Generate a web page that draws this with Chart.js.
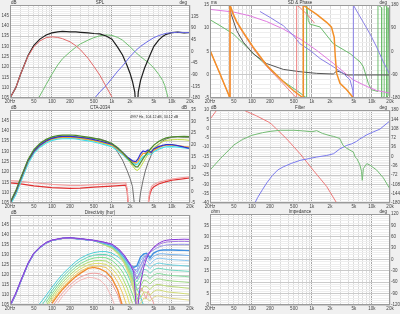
<!DOCTYPE html>
<html>
<head>
<meta charset="utf-8">
<script src="https://cdn.jsdelivr.net/npm/chart.js@4.4.1/dist/chart.umd.min.js"></script>
<style>
  html, body { margin: 0; padding: 0; background: #f0f0f0; width: 400px; height: 314px; overflow: hidden; }
  canvas { position: absolute; }
</style>
</head>
<body>
<canvas id="spl" width="200" height="104" style="left:0;top:0;width:200px;height:104px"></canvas>
<canvas id="phase" width="200" height="104" style="left:200px;top:0;width:200px;height:104px"></canvas>
<canvas id="cta" width="200" height="105" style="left:0;top:104px;width:200px;height:105px"></canvas>
<canvas id="filter" width="200" height="105" style="left:200px;top:104px;width:200px;height:105px"></canvas>
<canvas id="dir" width="200" height="103" style="left:0;top:209px;width:200px;height:103px"></canvas>
<canvas id="imp" width="200" height="103" style="left:200px;top:209px;width:200px;height:103px"></canvas>
<script>
// ---- x axis labels ----
const xLabelValues = [20, 50, 100, 200, 500, 1000, 2000, 5000, 10000, 20000];
const xLabelText = ["20Hz", "50", "100", "200", "500", "1k", "2k", "5k", "10k", "20k"];

// ---- SPL ----
const splFreq = [20, 25, 30, 40, 50, 63, 80, 100, 125, 150, 200, 250, 300, 400, 500, 630, 800, 1000, 1250, 1500, 1800, 2000, 2200, 2400, 2580, 2750, 3000, 3500, 4000, 4500, 5000, 6000, 7000, 8000, 10000, 12500, 16000, 20000];
const splTotal = [105, 110, 116.5, 125.5, 130.5, 133.5, 135.5, 136.5, 137, 137.2, 137, 137, 136.8, 136.5, 136.2, 136, 135, 133.5, 129.5, 125.8, 120.5, 117, 113, 108, 95, 108, 113.5, 119.5, 123.5, 127, 130, 133, 134.8, 135.8, 136.6, 136.9, 136.5, 136.7];
const wooferFreq = [20, 25, 30, 40, 50, 63, 80, 100, 125, 150, 200, 250, 300, 400, 500, 630, 800, 1000, 1100];
const wooferSpl = [105, 110, 116.5, 125.3, 129.8, 132.6, 134.2, 134.6, 134.3, 133.7, 132.2, 130.3, 128.3, 124.2, 120.3, 116, 110.5, 105.5, 102];
const midFreq = [60, 70, 80, 100, 125, 150, 200, 250, 300, 400, 500, 630, 800, 1000, 1250, 1500, 2000, 2500, 3000, 3500, 4000, 5000, 6000, 7000, 7600, 8200, 8800];
const midSpl = [105, 108.5, 111.5, 116.5, 121, 124, 127.3, 129.6, 131.2, 133, 134.2, 135.1, 135.5, 135.3, 134.3, 133, 129.8, 127, 125, 123.5, 122.3, 119.5, 116.5, 113.5, 111, 107.5, 104];
const tweeterFreq = [500, 630, 800, 1000, 1250, 1500, 2000, 2500, 3000, 4000, 5000, 6000, 7000, 8000, 10000, 12500, 16000, 20000];
const tweeterSpl = [104.5, 108, 111, 114.5, 118, 120.5, 125, 128, 130, 132.5, 134.2, 135.2, 135.8, 136.3, 136.6, 136.8, 136.7, 136.6];

// ---- SD & Phase ----
const sysPhaseFreq = [20, 29.4, 43.1, 43.1, 49, 55.7, 71.9, 105, 176, 333, 489, 718, 718, 750, 1198, 1759, 2120, 2350, 2450, 2583, 2935, 3791, 4800, 4897];
const sysPhaseDeg = [4.5, -87, -180, 180, 144, 116, 74, 17, -53, -116, -151, -180, 180, 176, 144, 113, 94, 55, -21, -85, -123, -148, -177, -180];
const woofPhaseFreq = [20, 29.4, 43.1, 43.1, 49, 55.7, 71.9, 105, 176, 333, 480, 556, 556, 632, 816, 1054, 1100];
const woofPhaseDeg = [4.5, -87, -180, 180, 140, 112, 70, 12, -58, -125, -165, -180, 180, 170, 145, 116, 110];
const twPhaseFreq = [136, 200, 333, 489, 632, 928, 1362, 2273, 3336, 4309, 4800, 4897, 4897, 5565, 7188, 9283, 11990, 15486, 20000];
const twPhaseDeg = [155, 132, 100, 62, 30, 4.5, -27, -59, -85, -110, -150, -180, 180, 157, 113, 68, 17, -40, -91];
const midPhaseFreq = [20, 29.4, 49, 92.8, 176, 333, 632, 816, 816, 870, 928, 1362, 2273, 4309, 6325, 7188, 8700, 9800, 12600, 12600, 14500, 14500, 16000, 16000, 17600, 17600, 18600, 18600, 20000];
const midPhaseDeg = [123, 100, 68, 5, -55, -115, -160, -180, 180, 120, 106, 95, 30, -8, -40, -59, -123, -148, -155, 180, 170, -180, -175, 180, 175, -180, -170, 170, -150];
const exPhaseFreq = [20, 49, 92.8, 176, 333, 632, 1198, 2273, 3336, 4897, 8169, 11990, 20000];
const exPhaseDeg = [163, 153, 138, 116, 87, 49, 4.5, -46, -78, -110, -135, -151, -161];
const gdFreq = [40, 43.1, 45.1, 55.7, 71.9, 105, 176, 333, 632, 1198, 2273, 2583, 2935, 3791, 20000];
const gdMs = [17, 14.1, 13, 9.5, 7, 4.5, 2.4, 1.15, 0.65, 0.3, 0.16, 0.8, 0.6, -0.05, -0.05];

// ---- CTA-2034 ----
const ctaFreq = [20, 25, 30, 40, 50, 63, 80, 100, 125, 150, 200, 250, 300, 400, 500, 630, 800, 1000, 1250, 1500, 1800, 2000, 2200, 2500, 2700, 3000, 3300, 3600, 4000, 4500, 5000, 6000, 7000, 8000, 10000, 12500, 16000, 20000];
const ctaOnAxis = [105, 110, 116.5, 125.5, 130.5, 133.5, 135.5, 136.5, 137, 137.2, 137, 137, 136.8, 136.5, 136.2, 136, 135, 133.5, 129.5, 125.8, 120.5, 117, 113, 98, 99, 110, 116, 120.5, 124.5, 128, 130.5, 133.3, 135, 136, 136.8, 137, 136.8, 136.8];
const ctaListening = [105, 110.5, 116.5, 125.5, 130, 133, 135, 136.3, 137, 137.2, 137.2, 137, 136.7, 136.2, 135.7, 135, 134.2, 133.5, 131.5, 129.5, 127.3, 126.3, 125.4, 125, 126.2, 128.8, 130.2, 129.8, 130.6, 129.5, 131.3, 132.3, 132.9, 133.2, 133.2, 132.8, 132, 131.4];
const ctaEarly = [104.8, 110.2, 116.2, 125.2, 129.8, 132.8, 134.8, 136, 136.6, 136.8, 136.8, 136.6, 136.3, 135.8, 135.3, 134.6, 133.8, 133, 131, 129, 126.8, 125.8, 124.8, 124.3, 125, 127.5, 129, 129, 129.8, 129.2, 130.6, 131.8, 132.6, 133, 133, 132.8, 132.3, 132];
const ctaPower = [104, 109, 115, 124, 129, 132, 134, 135.3, 135.9, 136.1, 136.2, 136, 135.6, 135.1, 134.5, 133.8, 133, 132.2, 130.3, 128.5, 126.3, 125.3, 124.4, 123.6, 124, 126, 127.5, 128, 128.8, 128.6, 129.8, 131, 131.8, 132.2, 132.3, 132, 131.6, 131.3];
const ctaTop = [105.2, 111, 117, 126, 130.8, 133.8, 135.8, 137, 137.6, 137.8, 137.9, 137.7, 137.4, 136.9, 136.4, 135.7, 134.8, 133.8, 131.7, 129.5, 127, 125.5, 124, 122.5, 122.5, 124.5, 126.5, 128, 129.8, 131.5, 133, 134.8, 135.8, 136.5, 137, 137.1, 137.2, 137.1];
const ctaPir = [104.5, 109.5, 115.5, 124.5, 129.5, 132.5, 134.5, 135.8, 136.4, 136.6, 136.7, 136.5, 136.1, 135.6, 135, 134.3, 133.5, 132.7, 130.8, 128.8, 126.2, 124.6, 123, 121, 120.8, 122.5, 124.5, 126.5, 128.5, 130.3, 131.8, 133.5, 134.7, 135.3, 135.6, 135.7, 135.6, 135.3];
const diFreq = [20, 30, 50, 100, 200, 300, 500, 1000, 1500, 1700, 1800, 1900, 3900, 4100, 4300, 4600, 5000, 6000, 8000, 10000, 14000, 20000];
const erDi = [3.7, 3.2, 2.4, 1.6, 1.3, 1.4, 1.8, 2.3, 2.6, 2.7, 0, -10, -10, -4, -1, 1, 2, 3.2, 4.2, 4.8, 5.3, 5.8];
const spDi = [4.6, 4.3, 3.7, 3.0, 2.6, 2.6, 2.9, 3.3, 3.6, 3.7, 1, -10, -10, -3, 0, 2.2, 3, 3.9, 4.8, 5.3, 5.8, 6.3];

// ---- Filter ----
const filtFreq = [20, 30, 50, 70, 100, 150, 200, 300, 500, 700, 1000, 1200, 1500, 2000, 2300, 2900, 3300, 3800, 4300, 4900, 5300, 5600, 6300, 6700, 6900, 7200, 8200, 9300, 12000, 15500, 20000];
const filtMag = [-22.3, -16, -8.8, -5.8, -3.6, -2.2, -1.5, -0.9, -0.9, -1.2, -1.7, -1.1, -2.6, -3.8, -4.2, -5.3, -9, -10.6, -11.6, -12.6, -15.5, -16.1, -19.5, -23, -27.8, -21.5, -18.8, -19.7, -22.3, -26.5, -32.5];
const filtPhaseFreq = [112, 125, 150, 177, 220, 270, 333, 450, 632, 900, 1200, 1760, 2000, 2300, 2900, 3800, 4600, 5500, 6300, 7200, 8200, 10500, 13600, 20000];
const filtPhase = [-180, -158, -128, -102, -73, -52, -40, -27, -15, -8, -2, 4, 7, 11, 29, 43, 49, 58, 68, 76, 84, 95, 106, 138];
const filtRedFreq = [20, 26, 40, 60, 72, 120, 187, 212, 258, 380, 632, 1050, 1760, 2583, 2800];
const filtRed = [144, 180, 220, 200, 180, 157, 134, 125, 106, 68, 11, -53, -116, -180, -200];

// ---- Directivity (hor) ----
const dirFreq = [20, 25, 30, 40, 50, 63, 80, 100, 150, 200, 300, 500, 700, 1000, 1300, 1600, 2000, 2300, 2600, 3000, 3400, 3800, 4300, 4900, 5600, 6300, 7200, 8200, 10000, 13000, 16000, 20000];
const dirLow0 = [105, 111, 117, 126, 131, 134, 136.3, 137.5, 138.5, 138.7, 138.2, 137.4];
const dirLow = [104.5, 110.5, 116.6, 125.6, 130.7, 133.7, 136, 137.3, 138.3, 138.5, 138, 137.2];
const dirHigh = [
  [136.6, 135.5, 133, 130, 125.5, 121.5, 100, 116, 124, 128.5, 131.5, 133.7, 135.2, 136.2, 137, 137.4, 137.7, 137.8, 137.9, 137.8],
  [136.5, 135.3, 132.8, 129.8, 125.6, 122.8, 118, 121.5, 126.5, 129.8, 131.8, 133.4, 134.6, 135.5, 136.1, 136.5, 136.7, 136.8, 136.8, 136.7],
  [136.4, 135.2, 132.6, 129.5, 125.5, 123.3, 121.5, 124.8, 128.5, 130.3, 131.2, 132.5, 133.5, 134.2, 134.7, 135, 135.2, 135.3, 135.3, 135.2],
  [136.3, 135, 132.4, 129.2, 125.2, 123.8, 124.5, 129, 130.5, 130.8, 128.5, 130.8, 131.8, 132.3, 132.5, 132.5, 132.5, 132.4, 132.3, 132.2],
  [136.2, 134.9, 132.2, 129, 124.8, 123, 122.5, 127.3, 129.3, 129.2, 127.2, 129.3, 130.2, 130.6, 130.6, 130.4, 130.2, 130.1, 129.9, 129.7],
  [136.1, 134.7, 132, 128.7, 124.3, 122, 120.5, 125, 127.5, 127.3, 125.3, 127.2, 128.2, 128.4, 128.2, 127.9, 127.7, 127.5, 127.3, 127.1],
  [136, 134.5, 131.8, 128.4, 123.7, 120.8, 118.5, 122.5, 125.3, 125, 123.2, 124.8, 125.8, 125.9, 125.6, 125.3, 125, 124.8, 124.6, 124.4],
  [135.9, 134.3, 131.5, 128, 123, 119.5, 116.5, 120, 122.8, 122.5, 120.8, 122.4, 123.3, 123.3, 123, 122.7, 122.4, 122.2, 122, 121.8],
  [135.8, 134.1, 131.2, 127.6, 122.3, 118.2, 114.5, 117.3, 120.2, 119.8, 118.2, 119.8, 120.7, 120.7, 120.3, 120, 119.7, 119.5, 119.3, 119],
  [135.7, 133.9, 130.9, 127.2, 121.5, 116.8, 112.3, 114.5, 117.5, 117, 115.5, 117.2, 118, 118, 117.6, 117.3, 117, 116.7, 116.5, 116.2],
  [135.6, 133.7, 130.6, 126.8, 120.7, 115.3, 110, 111.5, 114.6, 114.2, 112.7, 114.5, 115.3, 115.2, 114.8, 114.5, 114.2, 113.9, 113.6, 113.3],
  [135.5, 133.5, 130.3, 126.3, 119.8, 113.7, 107.5, 108.5, 111.6, 111.2, 109.8, 111.7, 112.5, 112.4, 112, 111.6, 111.3, 111, 110.7, 110.4],
  [135.4, 133.3, 130, 125.8, 118.8, 112, 105, 105.5, 108.5, 108.2, 107, 108.8, 109.6, 109.5, 109, 108.7, 108.3, 108, 107.7, 107.4]
];
const dirHighColors = ["#8a3ad8", "#a678e0", "#9a9ae8", "#3f8fe0", "#78b4ee", "#8cc8f0", "#6fd2e0", "#70d6c0", "#88dca0", "#a0dc88", "#bcdc78", "#d2dc78", "#e0d888"];
const lowFreq = [60, 70, 80, 100, 125, 150, 200, 250, 300, 400, 500, 630, 800, 1000, 1250, 1500, 1800, 2200, 2600, 3000, 3400];
const dirLowGroup = [
  [105, 107.5, 109.8, 113.8, 117.6, 120.4, 124.1, 126.7, 128.4, 130.3, 131.2, 131.7, 131.7, 130.9, 129.2, 127.2, 123.8, 118.5, 113.5, 109, 104.5],
  [null, 105.5, 108, 112.2, 116.1, 119, 122.8, 125.4, 127.1, 129, 129.9, 130.3, 130.2, 129.2, 127, 124.5, 120.5, 114.5, 109, 103.5, null],
  [null, null, 106.3, 110.7, 114.7, 117.6, 121.4, 124, 125.7, 127.6, 128.5, 128.8, 128.6, 127.3, 124.7, 121.6, 117, 110.5, 104, null, null],
  [null, null, 104.8, 109.3, 113.3, 116.3, 120.1, 122.7, 124.4, 126.3, 127.1, 127.3, 127, 125.3, 122.3, 118.6, 113.4, 105.8, null, null, null],
  [null, null, 103.5, 108, 112, 115, 118.8, 121.4, 123.1, 125, 125.7, 125.8, 125.3, 123.3, 119.8, 115.5, 109.5, 100, null, null, null],
  [null, null, null, 106.8, 110.8, 113.8, 117.6, 120.2, 121.9, 123.8, 124.4, 124.4, 123.7, 121, 116.5, 111, 104, null, null, null, null],
  [null, null, null, 105.8, 109.8, 112.8, 116.6, 119.2, 120.9, 123.3, 123.8, 123.1, 121.5, 118.3, 112.5, 104.5, null, null, null, null, null],
  [null, null, null, 104, 108, 111, 115, 117.5, 119, 120.6, 120.9, 120.6, 119, 115.8, 110, 103, null, null, null, null, null],
  [null, null, null, null, 106, 109.3, 113.5, 116, 117.5, 118.8, 118.6, 117.5, 114.5, 108.5, 101, null, null, null, null, null, null]
];
const dirLowColors = ["#4fcfd8", "#5fd8b8", "#7ee08e", "#aee06e", "#dede6a", "#f0c860", "#f08a30", "#f0a0a0", "#f4b8b8"];
const dirHfFreq = [2500, 2800, 3100, 3400, 3700, 4000, 4400, 4800, 5200];
const dirHfRed = [104, 110, 113.5, 111, 108, 112, 109, 107, 104];

// ---- helpers ----
const FONT = "'Liberation Sans', Arial, sans-serif";
Chart.defaults.font.family = FONT;
Chart.defaults.font.size = 4.5;
Chart.defaults.color = "#333";

function pts(freqs, vals) {
  return freqs.map((f, i) => ({ x: f, y: vals[i] }));
}

function line(freqs, vals, color, width, axis) {
  return {
    data: pts(freqs, vals),
    borderColor: color,
    borderWidth: width || 1,
    yAxisID: axis || "y",
    pointRadius: 0,
    tension: 0,
    spanGaps: false
  };
}

function logGrid() {
  const t = [];
  for (let d = 10; d <= 10000; d *= 10) {
    for (let m = 1; m <= 9; m++) {
      const v = d * m;
      if (v >= 20 && v <= 20000) t.push(v);
    }
  }
  return t;
}

function xScale(h) {
  const grid = logGrid();
  return {
    type: "logarithmic",
    min: 20,
    max: 20000,
    afterBuildTicks: (s) => { s.ticks = grid.map((v) => ({ value: v })); },
    afterFit: (s) => { s.height = h; },
    ticks: {
      autoSkip: false,
      maxRotation: 0,
      padding: 1,
      color: "#444",
      callback: (v) => {
        const i = xLabelValues.indexOf(v);
        return i >= 0 ? xLabelText[i] : "";
      }
    },
    grid: {
      drawTicks: false,
      color: (ctx) => ([100, 1000, 10000].includes(ctx.tick.value) ? "#a8a8a8" : "#dcdcdc")
    },
    border: { display: false }
  };
}

function yScale(ax, pos) {
  const minor = ax.step / 5;
  return {
    type: "linear",
    position: pos,
    min: ax.min,
    max: ax.max,
    afterBuildTicks: (s) => {
      const t = [];
      const n = Math.round((ax.max - ax.min) / minor);
      for (let i = 0; i <= n; i++) t.push({ value: +(ax.min + i * minor).toFixed(4) });
      s.ticks = t;
    },
    afterFit: (s) => { s.width = 10; },
    ticks: {
      display: ax.labels !== false,
      autoSkip: false,
      padding: 1,
      color: "#444",
      callback: (v) => {
        const k = (v - ax.min) / ax.step;
        if (Math.abs(k - Math.round(k)) > 1e-6) return "";
        if (v === ax.max && ax.hideMax) return "";
        return String(v);
      }
    },
    grid: pos === "left"
      ? {
          drawTicks: false,
          color: (ctx) => {
            const k = (ctx.tick.value - ax.min) / ax.step;
            return Math.abs(k - Math.round(k)) < 1e-6 ? "#cacaca" : "#eeeeee";
          }
        }
      : { drawTicks: false, drawOnChartArea: false },
    border: { display: false }
  };
}

// background, frame, title and units
const panelPlugin = {
  id: "panel",
  beforeDraw(chart) {
    const a = chart.chartArea;
    const c = chart.ctx;
    c.save();
    c.fillStyle = "#ffffff";
    c.fillRect(a.left, a.top, a.right - a.left, a.bottom - a.top);
    c.restore();
  },
  afterDraw(chart, args, opts) {
    const a = chart.chartArea;
    const c = chart.ctx;
    c.save();
    c.strokeStyle = "#9a9a9a";
    c.lineWidth = 1;
    c.strokeRect(Math.round(a.left) + 0.5, Math.round(a.top) + 0.5, Math.round(a.right - a.left) - 1, Math.round(a.bottom - a.top) - 1);
    c.font = "4.5px " + FONT;
    c.fillStyle = "#333";
    c.textBaseline = "bottom";
    c.textAlign = "center";
    c.fillText(opts.title, (a.left + a.right) / 2, a.top);
    c.textAlign = "left";
    if (opts.unitL) c.fillText(opts.unitL, a.left + 1, a.top);
    c.textAlign = "right";
    if (opts.unitR) c.fillText(opts.unitR, a.right - 3, a.top);
    if (opts.note) {
      c.font = "3.6px " + FONT;
      c.textAlign = "left";
      c.textBaseline = "middle";
      c.fillText(opts.note, opts.noteX, opts.noteY);
    }
    c.restore();
  }
};

function makePanel(id, cfg) {
  const ctx = document.getElementById(id).getContext("2d");
  return new Chart(ctx, {
    type: "line",
    data: { datasets: cfg.datasets },
    options: {
      responsive: false,
      animation: false,
      events: [],
      layout: { padding: { top: cfg.top, left: 0, right: 0, bottom: 0 } },
      plugins: {
        legend: { display: false },
        tooltip: { enabled: false },
        panel: { title: cfg.title, unitL: cfg.unitL, unitR: cfg.unitR, note: cfg.note, noteX: cfg.noteX, noteY: cfg.noteY }
      },
      scales: {
        x: xScale(cfg.xh),
        y: yScale(cfg.left, "left"),
        y1: yScale(cfg.right, "right")
      }
    },
    plugins: [panelPlugin]
  });
}

// SPL
makePanel("spl", {
  title: "SPL", unitL: "dB", unitR: "deg", top: 5, xh: 6,
  left: { min: 105, max: 150, step: 5, hideMax: true },
  right: { min: -180, max: 180, step: 45, hideMax: true },
  datasets: [
    line(wooferFreq, wooferSpl, "#e36a6a"),
    line(tweeterFreq, tweeterSpl, "#6b6be8"),
    line(splFreq, splTotal, "#1e1e1e", 1.2),
    line(midFreq, midSpl, "#72c072")
  ]
});

// SD & Phase
makePanel("phase", {
  title: "SD & Phase", unitL: "ms", unitR: "deg", top: 5, xh: 6,
  left: { min: -5, max: 15, step: 5 },
  right: { min: -180, max: 180, step: 90 },
  datasets: [
    line(sysPhaseFreq, sysPhaseDeg, "#f39028", 1.5, "y1"),
    line(woofPhaseFreq, woofPhaseDeg, "#ee8080", 1, "y1"),
    line(twPhaseFreq, twPhaseDeg, "#8a80e6", 1, "y1"),
    line(gdFreq, gdMs, "#555555", 1, "y"),
    line(exPhaseFreq, exPhaseDeg, "#e07ae0", 1, "y1"),
    line(midPhaseFreq, midPhaseDeg, "#6cbc6c", 1, "y1")
  ]
});

// CTA-2034
makePanel("cta", {
  title: "CTA-2034", unitL: "dB", unitR: "dB", top: 6, xh: 6,
  left: { min: 105, max: 150, step: 5, hideMax: true },
  right: { min: -5, max: 35, step: 5 },
  note: "4997 Hz, 104.12 dB, 34.12 dB", noteX: 130, noteY: 13,
  datasets: [
    line(ctaFreq, ctaTop, "#4f8a2e", 1.2),
    line(ctaFreq, ctaListening, "#2f2fd0", 1.2),
    line(ctaFreq, ctaEarly, "#f0a030", 1.2),
    line(ctaFreq, ctaPower, "#40e0f0", 1.2),
    line(ctaFreq, ctaPir, "#c0dc40", 1),
    line(ctaFreq, ctaOnAxis, "#707070", 1),
    line(diFreq, spDi, "#f2a0a0", 1.2, "y1"),
    line(diFreq, erDi, "#e03030", 1.2, "y1")
  ]
});

// Filter
makePanel("filter", {
  title: "Filter", unitL: "dB", unitR: "deg", top: 6, xh: 6,
  left: { min: -40, max: 10, step: 5 },
  right: { min: -180, max: 180, step: 36 },
  datasets: [
    line(filtFreq, filtMag, "#74bc74"),
    line(filtPhaseFreq, filtPhase, "#7a7aee", 1, "y1"),
    line(filtRedFreq, filtRed, "#ee7a7a", 1, "y1")
  ]
});

// Directivity
const dirSets = [];
dirHigh.forEach((hi, k) => {
  dirSets.push(line(dirFreq, (k === 0 ? dirLow0 : dirLow).concat(hi), dirHighColors[k], k === 3 ? 1.4 : 1));
});
dirLowGroup.forEach((vals, k) => {
  dirSets.push(line(lowFreq, vals, dirLowColors[k], k === 6 ? 1.4 : 1));
});
dirSets.push(line(dirHfFreq, dirHfRed, "#f0a0a0"));
makePanel("dir", {
  title: "Directivity (hor)", unitL: "dB", top: 6, xh: 7,
  left: { min: 105, max: 150, step: 5, hideMax: true },
  right: { min: -180, max: 180, step: 45, labels: false },
  datasets: dirSets
});

// Impedance
makePanel("imp", {
  title: "Impedance", unitL: "ohm", unitR: "deg", top: 5, xh: 7,
  left: { min: 0, max: 40, step: 5, hideMax: true },
  right: { min: -120, max: 120, step: 30 },
  datasets: []
});
</script>
</body>
</html>
